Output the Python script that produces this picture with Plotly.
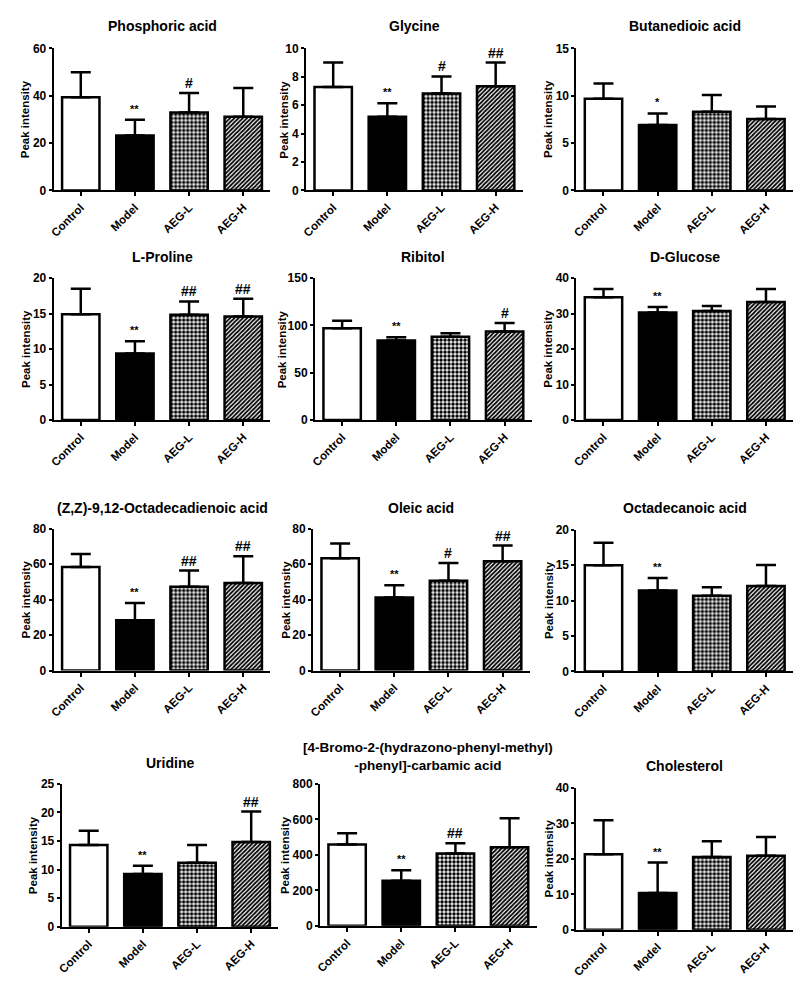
import plotly.graph_objects as go

# ---------------- data ----------------
groups = ["Control", "Model", "AEG-L", "AEG-H"]

titles = [
    "Phosphoric acid", "Glycine", "Butanedioic acid",
    "L-Proline", "Ribitol", "D-Glucose",
    "(Z,Z)-9,12-Octadecadienoic acid", "Oleic acid", "Octadecanoic acid",
    "Uridine", "[4-Bromo-2-(hydrazono-phenyl-methyl)<br>-phenyl]-carbamic acid", "Cholesterol",
]

phosphoric_mean = [39.4, 23.2, 32.9, 31.1]
phosphoric_sd = [10.5, 6.7, 8.3, 12.2]
glycine_mean = [7.29, 5.19, 6.83, 7.34]
glycine_sd = [1.71, 0.94, 1.20, 1.66]
butanedioic_mean = [9.69, 6.91, 8.30, 7.53]
butanedioic_sd = [1.59, 1.22, 1.77, 1.32]
proline_mean = [14.92, 9.38, 14.83, 14.6]
proline_sd = [3.60, 1.71, 1.89, 2.49]
ribitol_mean = [97.0, 84.2, 88.0, 93.5]
ribitol_sd = [8.0, 3.4, 3.8, 9.0]
glucose_mean = [34.64, 30.3, 30.76, 33.26]
glucose_sd = [2.31, 1.57, 1.39, 3.69]
octadecadienoic_mean = [58.3, 28.3, 47.2, 49.3]
octadecadienoic_sd = [7.3, 9.8, 9.1, 15.1]
oleic_mean = [63.3, 41.1, 50.6, 61.5]
oleic_sd = [8.2, 7.0, 10.0, 8.9]
octadecanoic_mean = [14.97, 11.41, 10.67, 12.06]
octadecanoic_sd = [3.18, 1.75, 1.20, 2.95]
uridine_mean = [14.32, 9.24, 11.2, 14.84]
uridine_sd = [2.48, 1.44, 3.12, 5.31]
bromo_mean = [459, 254, 407, 443]
bromo_sd = [63, 59, 58, 163]
cholesterol_mean = [21.25, 10.35, 20.5, 20.88]
cholesterol_sd = [9.6, 8.59, 4.44, 5.26]

means = [phosphoric_mean, glycine_mean, butanedioic_mean,
         proline_mean, ribitol_mean, glucose_mean,
         octadecadienoic_mean, oleic_mean, octadecanoic_mean,
         uridine_mean, bromo_mean, cholesterol_mean]
sds = [phosphoric_sd, glycine_sd, butanedioic_sd,
       proline_sd, ribitol_sd, glucose_sd,
       octadecadienoic_sd, oleic_sd, octadecanoic_sd,
       uridine_sd, bromo_sd, cholesterol_sd]

marks = [
    ["", "**", "#", ""], ["", "**", "#", "##"], ["", "*", "", ""],
    ["", "**", "##", "##"], ["", "**", "", "#"], ["", "**", "", ""],
    ["", "**", "##", "##"], ["", "**", "#", "##"], ["", "**", "", ""],
    ["", "**", "", "##"], ["", "**", "##", ""], ["", "**", "", ""],
]

y_max = [60, 10, 15, 20, 150, 40, 80, 80, 20, 25, 800, 40]
y_dtick = [20, 2, 5, 5, 50, 10, 20, 20, 5, 5, 200, 10]

# ---------------- layout geometry (pixels) ----------------
W, H = 801, 992
# x0 (axis left), top, bottom, y-label center x, title center y
geom = [
    (49, 42, 186, 21, 19), (303, 42, 186, 281, 19), (575, 42, 186, 547, 19),
    (49, 275, 419, 21, 254), (312, 275, 419, 279, 254), (575, 275, 419, 547, 254),
    (49, 529, 673, 21, 508), (310, 529, 673, 282, 508), (575, 530, 674, 547, 508),
    (57, 788, 933, 29, 767), (317, 788, 932, 282, 760), (575, 792, 936, 547, 770),
]
PW = 218

FONT = "Liberation Sans, Arial, sans-serif"

# per-group style
fills = ["white", "black", "white", "white"]
pat_shape = ["", "", ".", "/"]
pat_size = [6, 6, 4, 3]
pat_solid = [0.3, 0.3, 0.6, 0.6]

fig = go.Figure()
annotations = []
layout_axes = {}

for i in range(12):
    x0, top, bot, lab_x, tit_y = geom[i]
    n = "" if i == 0 else str(i + 1)
    for j, g in enumerate(groups):
        pattern = dict(shape=pat_shape[j], fgcolor="black", bgcolor=fills[j],
                       size=pat_size[j], solidity=pat_solid[j], fillmode="replace")
        fig.add_trace(go.Bar(
            x=[g], y=[means[i][j]], width=0.69,
            marker=dict(color=fills[j], line=dict(color="black", width=2.5),
                        pattern=pattern),
            error_y=dict(type="data", array=[sds[i][j]], arrayminus=[0],
                         symmetric=False, color="black", thickness=2.5, width=10),
            xaxis="x" + n, yaxis="y" + n, showlegend=False,
        ))
    layout_axes["xaxis" + n] = dict(
        domain=[x0 / W, (x0 + PW) / W], anchor="y" + n,
        categoryorder="array", categoryarray=groups,
        range=[-0.5, 3.5], showline=True, linecolor="black", linewidth=2,
        ticks="outside", ticklen=4, tickwidth=2, tickcolor="black",
        tickangle=-45, showgrid=False, zeroline=False,
        tickfont=dict(family=FONT, size=11.5, color="black", weight="bold"),
    )
    layout_axes["yaxis" + n] = dict(
        domain=[1 - bot / H, 1 - top / H], anchor="x" + n,
        range=[0, y_max[i]], dtick=y_dtick[i], showline=True, linecolor="black",
        linewidth=2, ticks="outside", ticklen=3, tickwidth=2, tickcolor="black",
        showgrid=False, zeroline=False,
        tickfont=dict(family=FONT, size=12, color="black", weight="bold"),
    )
    two_line = "<br>" in titles[i]
    annotations.append(dict(
        text=titles[i], xref="paper", yref="paper",
        x=(x0 + PW / 2) / W, y=1 - tit_y / H,
        xanchor="center", yanchor="middle", showarrow=False,
        font=dict(family=FONT, size=13.5 if two_line else 14, color="black",
                  weight="bold")))
    annotations.append(dict(
        text="Peak intensity", xref="paper", yref="paper",
        x=lab_x / W, y=1 - (top + bot) / 2 / H, textangle=-90,
        xanchor="center", yanchor="middle", showarrow=False,
        font=dict(family=FONT, size=11.5, color="black", weight="bold")))
    for g, m, mu, sd in zip(groups, marks[i], means[i], sds[i]):
        if not m:
            continue
        star = m.startswith("*")
        annotations.append(dict(
            text=m, xref="x" + n, yref="y" + n, x=g, y=mu + sd,
            xanchor="center", yanchor="bottom", showarrow=False,
            yshift=3 if star else 0,
            font=dict(family=FONT, size=11 if star else 14, color="black",
                      weight="bold")))

fig.update_layout(
    width=W, height=H, margin=dict(l=0, r=0, t=0, b=0),
    paper_bgcolor="white", plot_bgcolor="white", barmode="overlay",
    annotations=annotations, **layout_axes,
)

fig.write_html("out.html")
